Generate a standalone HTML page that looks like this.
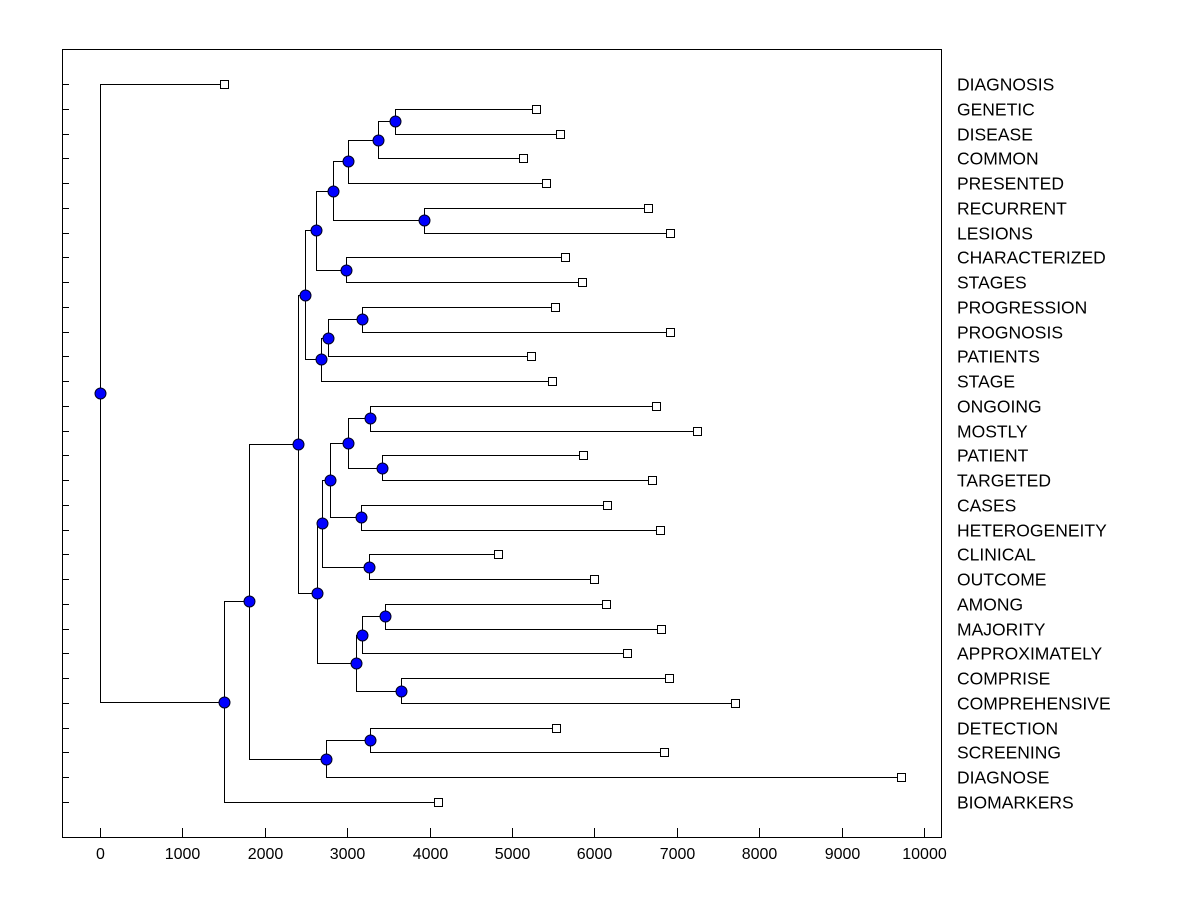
<!DOCTYPE html>
<html><head><meta charset="utf-8"><style>
html,body{margin:0;padding:0;background:#fff;}
svg{display:block;font-family:"Liberation Sans",Arial,sans-serif;}
</style></head><body>
<svg id="chart" width="1200" height="900" viewBox="0 0 1200 900"></svg>
<script>
const leafLabels = ["DIAGNOSIS","GENETIC","DISEASE","COMMON","PRESENTED","RECURRENT","LESIONS","CHARACTERIZED","STAGES","PROGRESSION","PROGNOSIS","PATIENTS","STAGE","ONGOING","MOSTLY","PATIENT","TARGETED","CASES","HETEROGENEITY","CLINICAL","OUTCOME","AMONG","MAJORITY","APPROXIMATELY","COMPRISE","COMPREHENSIVE","DETECTION","SCREENING","DIAGNOSE","BIOMARKERS"];
const leafValues = [1505,5291,5583,5133,5413,6650,6917,5643,5850,5522,6917,5231,5485,6748,7245,5862,6699,6153,6796,4830,5995,6141,6808,6396,6905,7706,5534,6845,9721,4102];
const mergeLeft  = [1,30,31,5,32,7,34,9,37,38,36,13,15,41,17,43,19,45,21,48,24,49,47,40,26,54,53,56,0];
const mergeRight = [2,3,4,6,33,8,35,10,11,12,39,14,16,42,18,44,20,46,22,23,25,50,51,52,27,28,55,29,57];
const mergeValues = [3580,3374,3010,3932,2828,2985,2621,3180,2767,2682,2488,3277,3422,3010,3167,2791,3265,2694,3459,3180,3653,3107,2633,2403,3277,2743,1808,1505,0];
const xTicks = [0,1000,2000,3000,4000,5000,6000,7000,8000,9000,10000];

const NS="http://www.w3.org/2000/svg";
const svg=document.getElementById('chart');
const L=62,R=941,T=49,B=837;
const xScale=v=>100+v*0.0824;
const yScale=i=>84+i*(802-84)/29;
function mk(tag,attrs,parent){const e=document.createElementNS(NS,tag);for(const k in attrs)e.setAttribute(k,attrs[k]);(parent||svg).appendChild(e);return e;}

const frame=mk('rect',{x:L+0.5,y:T+0.5,width:R-L,height:B-T,fill:'none',stroke:'#000','stroke-width':1});



const n=leafLabels.length;
for(let i=0;i<n;i++){
  const y=Math.round(yScale(i))+0.5;
  const tk=mk('line',{x1:L,y1:y,x2:L+7,y2:y,stroke:'#000'});
  
  
  const t=mk('text',{x:957,y:y+6,'font-size':17.5,fill:'#000'});
  t.textContent=leafLabels[i];
  
  
}
xTicks.forEach(v=>{
  const x=Math.round(xScale(v))+0.5;
  const tk=mk('line',{x1:x,y1:B,x2:x,y2:B-9,stroke:'#000'});
  
  
  const t=mk('text',{x:x,y:859,'font-size':16,'text-anchor':'middle',fill:'#000'});
  t.textContent=v;
  
  
});

const nodeX=[],nodeY=[];
for(let i=0;i<n;i++){nodeX.push(xScale(leafValues[i]));nodeY.push(yScale(i));}
for(let k=0;k<mergeValues.length;k++){
  const a=mergeLeft[k],b=mergeRight[k];
  nodeX.push(xScale(mergeValues[k]));
  nodeY.push((nodeY[a]+nodeY[b])/2);
}
const g=mk('g',{stroke:'#000','stroke-width':1,fill:'none'});
for(let k=0;k<mergeValues.length;k++){
  const id=n+k,a=mergeLeft[k],b=mergeRight[k];
  const x=Math.round(nodeX[id])+0.5;
  const p=mk('path',{d:`M${Math.round(nodeX[a])+0.5},${Math.round(nodeY[a])+0.5}H${x}V${Math.round(nodeY[b])+0.5}H${Math.round(nodeX[b])+0.5}`},g);
  
  
}
for(let i=0;i<n;i++){
  const s=mk('rect',{x:Math.round(nodeX[i])-4+0.5,y:Math.round(nodeY[i])-4+0.5,width:8,height:8,fill:'#fff',stroke:'#000'});
  
  
}
for(let k=0;k<mergeValues.length;k++){
  const id=n+k;
  const c=mk('circle',{cx:Math.round(nodeX[id])+0.5,cy:Math.round(nodeY[id])+0.5,r:5.5,fill:'#0000ff',stroke:'#000020','stroke-width':1});
  
  
}
</script>
</body></html>
